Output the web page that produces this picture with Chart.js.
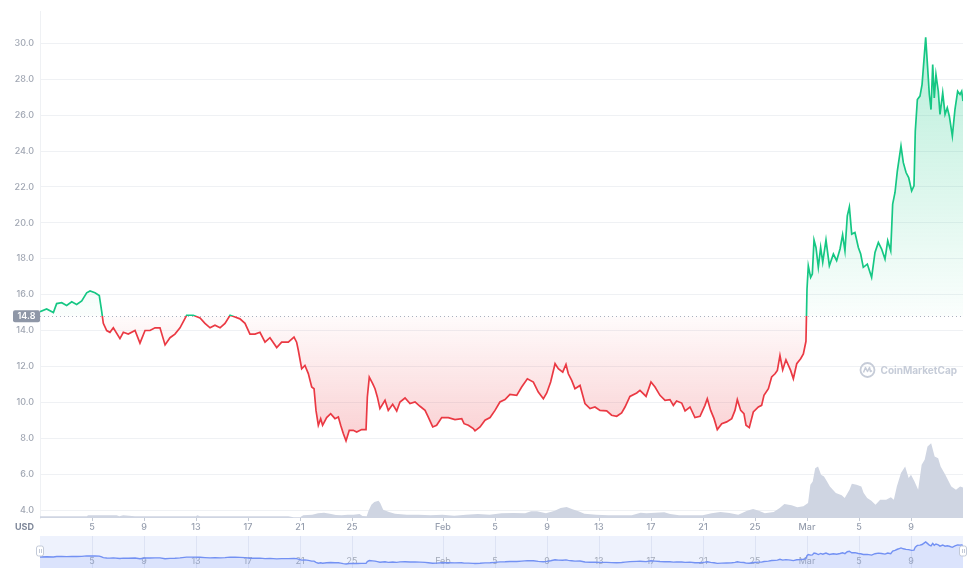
<!DOCTYPE html>
<html><head><meta charset="utf-8">
<script src="https://cdn.jsdelivr.net/npm/chart.js@4.4.1/dist/chart.umd.min.js"></script>
<style>
html,body{margin:0;padding:0;background:#fff;}
#wrap{position:relative;width:975px;height:578px;overflow:hidden;}
#main{position:absolute;left:0;top:0;}
#nav{position:absolute;left:0;top:530px;}
</style></head><body>
<div id="wrap"><canvas id="main" width="975" height="536"></canvas><canvas id="nav" width="975" height="48"></canvas></div>
<script>
// ---- data (x = days since Jan 1) ----
const priceSeries = [
[0,15.05],[0.51,15.2],[1.03,15.0],[1.28,15.5],[1.67,15.55],[2.05,15.4],[2.44,15.6],[2.82,15.45],[3.21,15.65],[3.59,16.1],
[3.85,16.2],[4.23,16.1],[4.56,15.95],[4.74,15.1],[4.87,14.4],[5.13,14.0],[5.38,13.9],[5.64,14.15],[6.15,13.55],[6.41,13.9],
[6.79,13.8],[7.31,14.0],[7.69,13.3],[8.08,14.0],[8.46,14.0],[8.85,14.15],[9.23,14.15],[9.62,13.2],[10.0,13.6],[10.38,13.8],
[10.77,14.15],[11.28,14.85],[11.79,14.85],[12.31,14.7],[12.69,14.4],[13.08,14.15],[13.46,14.3],[13.85,14.15],[14.23,14.4],[14.62,14.85],
[15.0,14.75],[15.38,14.65],[15.77,14.4],[16.15,13.8],[16.54,13.8],[16.92,13.9],[17.31,13.35],[17.69,13.6],[18.21,13.05],[18.59,13.35],
[19.1,13.35],[19.54,13.63],[19.74,13.35],[19.87,12.9],[20.13,11.87],[20.38,12.05],[20.64,11.6],[20.9,10.85],[21.08,10.76],[21.23,9.55],
[21.41,8.72],[21.59,9.09],[21.74,8.72],[22.05,9.15],[22.36,9.37],[22.69,9.09],[22.95,9.18],[23.13,8.72],[23.33,8.26],[23.54,7.85],
[23.79,8.44],[24.1,8.44],[24.36,8.35],[24.74,8.48],[25.08,8.48],[25.18,10.3],[25.33,11.4],[25.59,11.04],[25.77,10.76],[25.95,10.3],
[26.15,9.65],[26.54,10.11],[26.79,9.55],[27.13,9.89],[27.44,9.52],[27.69,10.02],[28.08,10.24],[28.46,9.93],[28.85,10.02],[29.23,9.78],
[29.62,9.55],[29.87,9.18],[30.21,8.63],[30.51,8.72],[30.9,9.15],[31.41,9.15],[31.92,9.04],[32.44,9.09],[32.62,8.81],[32.95,8.72],
[33.33,8.54],[33.46,8.41],[33.85,8.63],[34.23,9.0],[34.62,9.15],[35.0,9.55],[35.38,10.02],[35.77,10.15],[36.15,10.44],[36.67,10.39],
[37.05,10.85],[37.49,11.31],[37.95,11.13],[38.33,10.57],[38.72,10.2],[38.98,10.52],[39.28,11.13],[39.62,12.15],[39.87,11.87],[40.21,11.68],
[40.46,12.11],[40.64,11.59],[40.9,11.22],[41.15,10.76],[41.54,10.94],[41.92,9.93],[42.31,9.65],[42.69,9.74],[43.08,9.55],[43.59,9.52],
[43.97,9.28],[44.36,9.22],[44.74,9.41],[45.0,9.74],[45.38,10.33],[45.9,10.52],[46.15,10.67],[46.62,10.33],[47.0,11.13],[47.31,10.85],
[47.69,10.39],[48.08,10.11],[48.46,10.15],[48.72,9.83],[48.97,10.07],[49.36,9.96],[49.62,9.52],[50.0,9.74],[50.38,9.15],[50.77,9.22],
[51.15,9.83],[51.33,10.2],[51.59,9.55],[51.85,9.09],[52.1,8.48],[52.44,8.81],[52.82,8.91],[53.21,9.09],[53.46,9.55],[53.64,10.15],
[53.9,9.55],[54.15,9.37],[54.31,8.72],[54.56,8.59],[54.87,9.46],[55.26,9.74],[55.51,9.83],[55.69,10.39],[56.03,10.76],[56.28,11.41],
[56.54,11.59],[56.72,11.78],[56.92,12.61],[57.13,11.81],[57.38,12.37],[57.74,11.78],[57.95,11.31],[58.21,12.15],[58.51,12.43],[58.72,12.7],
[58.92,13.4],[59.0,16.3],[59.1,17.6],[59.28,16.96],[59.41,17.15],[59.54,19.04],[59.69,18.63],[59.87,17.52],[60.05,18.63],[60.21,17.8],
[60.46,19.04],[60.72,17.61],[61.03,18.26],[61.28,17.89],[61.54,18.54],[61.74,19.33],[61.92,18.44],[62.1,20.39],[62.26,20.89],[62.44,19.37],
[62.69,19.46],[62.95,18.63],[63.13,18.26],[63.33,17.52],[63.64,17.7],[63.97,16.96],[64.23,18.35],[64.49,18.91],[64.74,18.54],[65.0,17.98],
[65.21,19.0],[65.44,18.44],[65.59,21.04],[65.77,21.69],[65.95,22.89],[66.1,23.63],[66.23,24.28],[66.41,23.35],[66.62,22.8],[66.82,22.52],
[67.05,21.78],[67.23,22.06],[67.33,25.1],[67.49,26.87],[67.69,27.06],[67.85,27.7],[67.95,28.63],[68.13,30.33],[68.28,28.63],[68.41,27.15],
[68.54,26.31],[68.67,28.82],[68.79,26.96],[68.92,28.26],[69.1,27.33],[69.23,26.04],[69.44,27.24],[69.62,26.04],[69.79,26.41],[69.95,25.94],
[70.18,24.83],[70.38,26.31],[70.59,27.33],[70.77,27.15],[70.9,27.33],[71.0,26.78]
];
// 24h volume (millions USD)
const volumeSeries = [
[0,17],[3.6,17],[3.7,27],[5.9,27],[6.1,17],[6.4,27],[7.3,17],[12.0,17],[12.1,27],[12.3,17],[19.1,17],[19.5,7],[20.0,7],
[20.25,27],[20.94,33],[21.39,47],[21.85,53],[22.3,43],[22.76,30],[23.21,27],[23.67,33],[24.12,33],[24.58,40],[24.81,20],[25.13,17],
[25.26,67],[25.49,133],[25.72,160],[26.04,173],[26.17,150],[26.4,83],[26.85,60],[27.31,43],[28.22,33],[29.13,33],[30.04,27],[30.95,33],
[31.86,23],[32.77,33],[33.68,40],[34.59,33],[35.5,47],[36.41,50],[37.32,47],[37.78,67],[38.23,67],[38.92,47],[39.6,73],[40.05,100],
[40.51,110],[40.96,87],[41.42,67],[41.88,43],[42.79,33],[43.7,27],[45.52,27],[46.2,53],[46.65,47],[47.34,53],[48.02,57],[48.47,40],
[49.16,27],[50.98,27],[51.66,47],[52.34,60],[53.03,50],[53.71,33],[54.39,73],[54.85,90],[55.3,73],[55.76,47],[56.44,60],[56.9,100],
[57.26,140],[57.81,127],[58.26,107],[58.72,117],[59.08,150],[59.26,333],[59.44,367],[59.63,500],[59.85,517],[60.08,433],[60.31,417],
[60.54,367],[60.76,317],[61.22,250],[61.67,227],[61.9,200],[62.27,283],[62.45,343],[62.81,333],[63.18,317],[63.36,250],[63.63,200],
[63.95,173],[64.27,133],[64.63,183],[65.09,183],[65.45,207],[65.68,183],[65.91,317],[66.23,450],[66.55,517],[66.82,400],[67.0,433],
[67.27,367],[67.55,283],[67.82,533],[68.05,583],[68.27,717],[68.55,750],[68.82,617],[69.09,600],[69.28,517],[69.64,433],[70.1,317],
[70.46,283],[70.78,317],[71.0,307]
];
const tickDays   = [4, 8, 12, 16, 20, 24, 31, 35, 39, 43, 47, 51, 55, 59, 63, 67];
const tickLabels = ['5','9','13','17','21','25','Feb','5','9','13','17','21','25','Mar','5','9'];
const priceTicks = [4,6,8,10,12,14,16,18,20,22,24,26,28,30];
const baseline = 14.8;
const currency = 'USD';

// ---- styles ----
const GREEN = '#16c784', RED = '#ea3943';
Chart.defaults.font.family = 'Inter, "Noto Sans", sans-serif';

const priceData = priceSeries.map(p => ({x: p[0], y: p[1]}));
const volumeData = volumeSeries.map(p => ({x: p[0], y: p[1]}));
const labelFor = v => { const i = tickDays.indexOf(v); return i >= 0 ? tickLabels[i] : ''; };

const mainOverlay = {
  id: 'mainOverlay',
  beforeDatasetsDraw(chart) {
    const {ctx, chartArea: a, scales: {y}} = chart;
    const by = Math.round(y.getPixelForValue(baseline)) + 0.5;
    ctx.save();
    ctx.strokeStyle = '#aab2c0'; ctx.lineWidth = 1; ctx.setLineDash([1, 3]);
    ctx.beginPath(); ctx.moveTo(a.left, by); ctx.lineTo(a.right, by); ctx.stroke();
    ctx.restore();
  },
  afterDraw(chart) {
    const {ctx, chartArea: a, scales: {x, y}} = chart;
    const by = y.getPixelForValue(baseline);
    ctx.save();
    // baseline value label
    ctx.fillStyle = '#8f97a7';
    ctx.beginPath();
    if (ctx.roundRect) ctx.roundRect(a.left - 27, by - 6, 27, 12, 2); else ctx.rect(a.left - 27, by - 6, 27, 12);
    ctx.fill();
    ctx.fillStyle = '#ffffff'; ctx.font = '600 9px Inter, sans-serif';
    ctx.textAlign = 'center'; ctx.textBaseline = 'middle';
    ctx.fillText(baseline.toFixed(1), a.left - 13.5, by + 0.5);
    // currency label
    ctx.fillStyle = '#7f889a'; ctx.font = '700 9px Inter, sans-serif';
    ctx.textAlign = 'right';
    ctx.fillText(currency, a.left - 6, x.top + 9);
    // watermark
    const wy = y.getPixelForValue(11.8);
    ctx.font = '700 10px Inter, sans-serif';
    ctx.textAlign = 'right'; ctx.fillStyle = '#c6ccd8';
    const txt = 'CoinMarketCap';
    ctx.fillText(txt, a.right - 6, wy + 0.5);
    const tw = ctx.measureText(txt).width;
    const cx = a.right - 6 - tw - 13, cy = wy;
    ctx.strokeStyle = '#c6ccd8'; ctx.lineWidth = 1.8;
    ctx.beginPath(); ctx.arc(cx, cy, 7, 0, Math.PI * 2); ctx.stroke();
    ctx.lineWidth = 1.5; ctx.lineJoin = 'round';
    ctx.beginPath();
    ctx.moveTo(cx - 4, cy + 2.5); ctx.lineTo(cx - 2, cy - 2.5); ctx.lineTo(cx, cy + 1.5);
    ctx.lineTo(cx + 2, cy - 2.5); ctx.lineTo(cx + 3, cy + 1.5); ctx.lineTo(cx + 4.5, cy + 0.5);
    ctx.stroke();
    ctx.restore();
  }
};

const mainChart = new Chart(document.getElementById('main'), {
  type: 'line',
  data: { datasets: [
    { label: 'Price', data: priceData, yAxisID: 'y', borderColor: GREEN, borderWidth: 1.7,
      pointRadius: 0, tension: 0, fill: {value: baseline, above: 'rgba(22,199,132,0.2)', below: 'rgba(234,57,67,0.15)'} },
    { label: 'Volume', data: volumeData, yAxisID: 'yv', borderColor: '#cfd5e2', borderWidth: 0,
      backgroundColor: '#cfd5e2', pointRadius: 0, tension: 0, fill: 'origin' }
  ]},
  options: {
    responsive: false, animation: false, events: [],
    layout: { padding: { top: 10, right: 12, left: 0, bottom: 0 } },
    plugins: { legend: { display: false }, tooltip: { enabled: false } },
    scales: {
      x: { type: 'linear', min: 0, max: 71,
        afterBuildTicks: s => { s.ticks = tickDays.map(v => ({value: v})); },
        afterFit: s => { s.height = 18; },
        ticks: { autoSkip: false, maxRotation: 0, padding: 1, color: '#969eae', font: { size: 9, weight: '500' }, callback: v => labelFor(v) },
        grid: { display: true, drawOnChartArea: false, drawTicks: true, tickLength: 3, color: '#c3c9d4' },
        border: { display: false } },
      y: { type: 'linear', position: 'left', min: 4 - 8/18, max: 30 + 32/18,
        afterBuildTicks: s => { s.ticks = priceTicks.map(v => ({value: v})); },
        afterFit: s => { s.width = 40; },
        ticks: { padding: 6, color: '#a1a7b3', font: { size: 9, weight: '500' }, callback: v => Number(v).toFixed(1) },
        grid: { color: '#eff1f4', drawTicks: false },
        border: { display: true, color: '#eff1f4' } },
      yv: { type: 'linear', display: false, min: 0, max: 5080 }
    }
  },
  plugins: [mainOverlay]
});

(function applyGradients(chart) {
  const {ctx, chartArea: a, scales: {y}} = chart;
  const by = y.getPixelForValue(baseline);
  const f = Math.min(1, Math.max(0, (by - a.top) / (a.bottom - a.top)));
  const lg = ctx.createLinearGradient(0, a.top, 0, a.bottom);
  lg.addColorStop(0, GREEN); lg.addColorStop(f, GREEN); lg.addColorStop(f, RED); lg.addColorStop(1, RED);
  const vals = priceSeries.map(p => p[1]);
  const topY = y.getPixelForValue(Math.max(...vals));
  const botY = y.getPixelForValue(Math.min(...vals));
  const ga = ctx.createLinearGradient(0, topY, 0, by);
  ga.addColorStop(0, 'rgba(22,199,132,0.30)'); ga.addColorStop(1, 'rgba(22,199,132,0.02)');
  const gb = ctx.createLinearGradient(0, by, 0, botY);
  gb.addColorStop(0, 'rgba(234,57,67,0.02)'); gb.addColorStop(1, 'rgba(234,57,67,0.24)');
  const ds = chart.data.datasets[0];
  ds.borderColor = lg;
  ds.fill = { value: baseline, above: ga, below: gb };
  chart.update('none');
})(mainChart);

// ---- navigator ----
const navOverlay = {
  id: 'navOverlay',
  beforeDraw(chart) {
    const {ctx, chartArea: a} = chart;
    ctx.save(); ctx.fillStyle = '#eef2fd';
    ctx.fillRect(a.left, a.top, a.right - a.left, a.bottom - a.top);
    ctx.restore();
  },
  beforeDatasetsDraw(chart) {
    const {ctx, chartArea: a, scales: {x}} = chart;
    ctx.save();
    ctx.fillStyle = '#a3aab8'; ctx.font = '9px Inter, sans-serif';
    ctx.textAlign = 'center'; ctx.textBaseline = 'middle';
    tickDays.forEach((d, i) => ctx.fillText(tickLabels[i], x.getPixelForValue(d), a.bottom - 7));
    ctx.restore();
  },
  afterDraw(chart) {
    const {ctx, chartArea: a} = chart;
    const cy = (a.top + a.bottom) / 2 - 1;
    ctx.save();
    [a.left, a.right].forEach(hx => {
      ctx.fillStyle = '#ffffff'; ctx.strokeStyle = '#c3cad8'; ctx.lineWidth = 1;
      ctx.beginPath();
      if (ctx.roundRect) ctx.roundRect(hx - 3.5, cy - 5, 7, 10, 2); else ctx.rect(hx - 3.5, cy - 5, 7, 10);
      ctx.fill(); ctx.stroke();
      ctx.beginPath(); ctx.moveTo(hx - 0.5, cy - 2); ctx.lineTo(hx - 0.5, cy + 2);
      ctx.moveTo(hx + 1.5, cy - 2); ctx.lineTo(hx + 1.5, cy + 2); ctx.stroke();
    });
    ctx.restore();
  }
};

new Chart(document.getElementById('nav'), {
  type: 'line',
  data: { datasets: [
    { data: priceData, borderColor: '#7391f3', borderWidth: 1.4, pointRadius: 0, tension: 0,
      fill: 'start', backgroundColor: 'rgba(84,124,245,0.12)' }
  ]},
  options: {
    responsive: false, animation: false, events: [],
    layout: { padding: { left: 40, right: 12, top: 6, bottom: 10 } },
    plugins: { legend: { display: false }, tooltip: { enabled: false } },
    scales: {
      x: { type: 'linear', min: 0, max: 71,
        afterBuildTicks: s => { s.ticks = tickDays.map(v => ({value: v})); },
        afterFit: s => { s.height = 0; },
        ticks: { display: false },
        grid: { display: true, drawOnChartArea: true, drawTicks: false, color: '#dde3f4' },
        border: { display: false } },
      y: { display: false, min: 3.8, max: 36.4 }
    }
  },
  plugins: [navOverlay]
});
</script>
</body></html>
